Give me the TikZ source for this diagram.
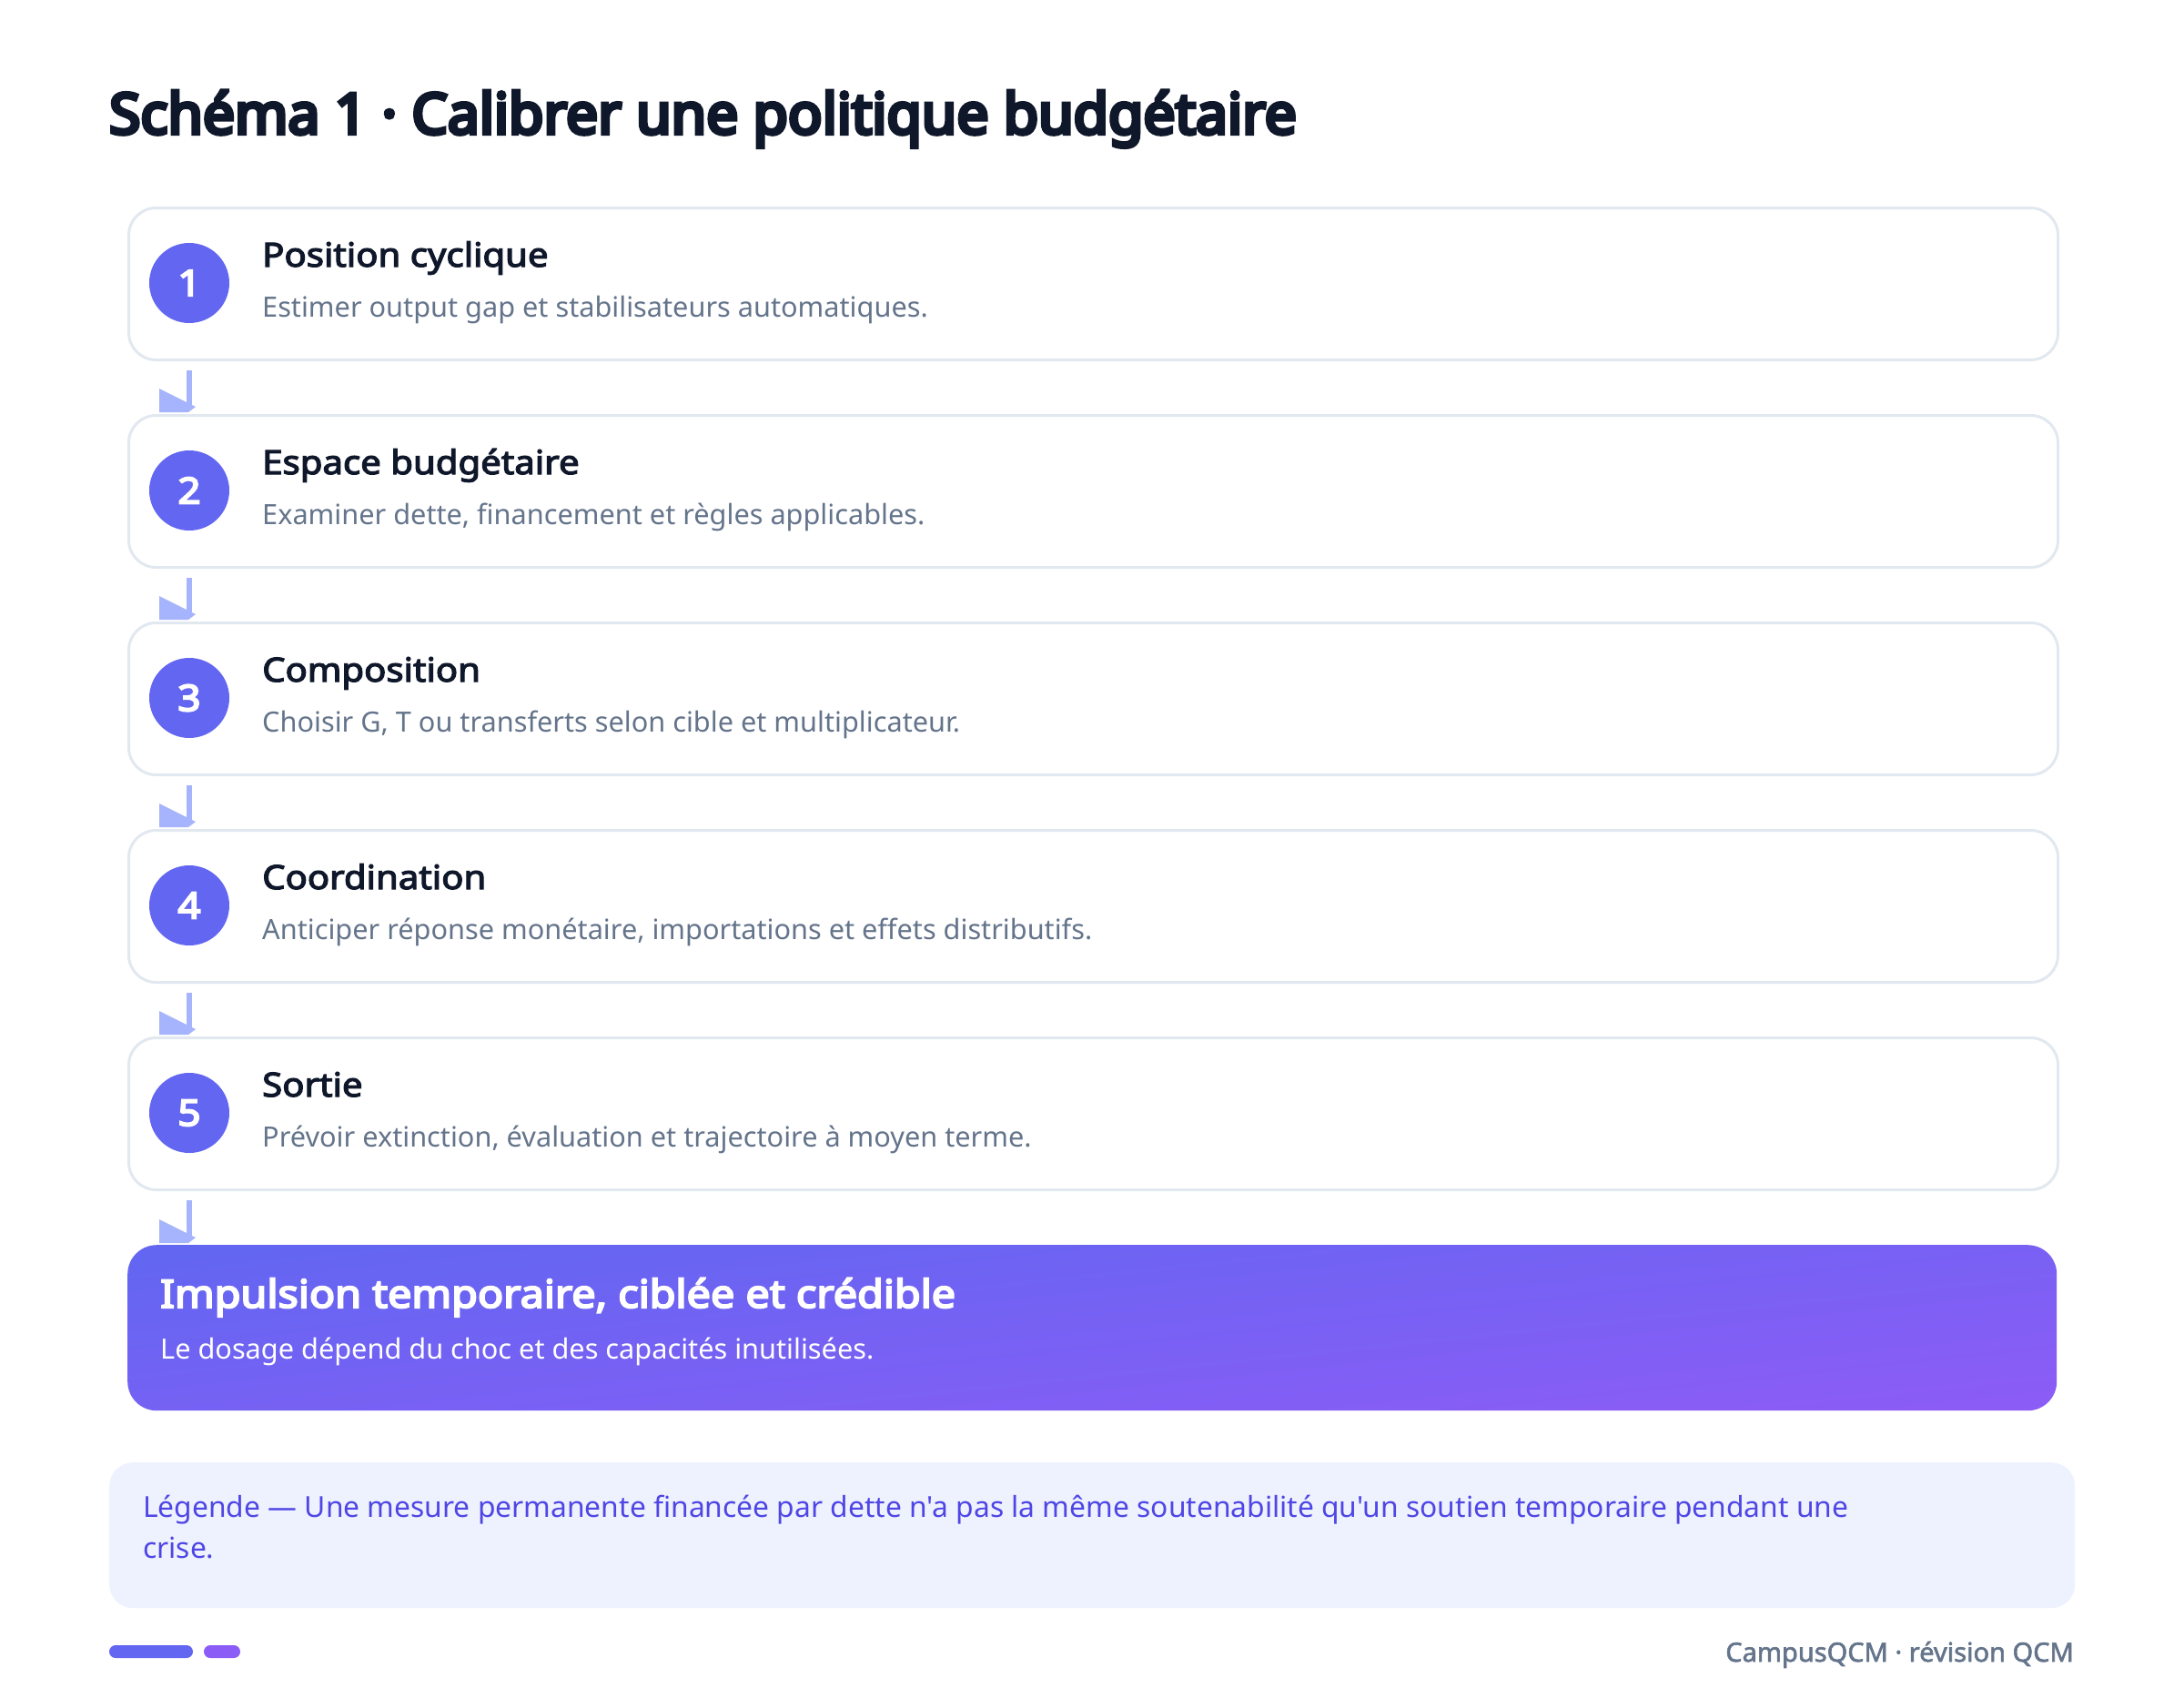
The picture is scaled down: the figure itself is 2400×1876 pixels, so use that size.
\documentclass[tikz,border=0pt]{standalone}
\usepackage{fontspec}
\setmainfont{Noto Sans}
\newfontfamily\heavyfont{Noto Sans}[FakeBold=7, FakeStretch=1.006]
\newfontfamily\boldwide{Noto Sans}[FakeBold=3.4, FakeStretch=1.1]
\newfontfamily\heavywide{Noto Sans}[FakeBold=4.8, FakeStretch=1.1]
\newfontfamily\semibold{Noto Sans}[FakeBold=2]
\newfontfamily\plainfont{Noto Sans}
\definecolor{ink}{HTML}{0F172A}
\definecolor{muted}{HTML}{64748B}
\definecolor{cardline}{HTML}{E2E8F0}
\definecolor{indigo}{HTML}{6366F1}
\definecolor{violet}{HTML}{8B5CF6}
\definecolor{arrowc}{HTML}{A5B4FC}
\definecolor{legfill}{HTML}{EEF2FF}
\definecolor{legtext}{HTML}{4F46E5}
\tikzset{
  stepcard/.style={draw=cardline, line width=3pt, fill=white, rounded corners=30pt,
    minimum width=2120pt, minimum height=167pt, anchor=north west, inner sep=0pt},
  badge/.style={circle, fill=indigo, minimum size=88pt, inner sep=0pt, text=white,
    font=\fontsize{40}{48}\selectfont\heavywide},
  steptitle/.style={anchor=base west, inner sep=0pt, text=ink,
    font=\fontsize{36.5}{44}\selectfont\boldwide},
  stepdesc/.style={anchor=base west, inner sep=0pt, text=muted,
    font=\fontsize{30.7}{38}\selectfont\plainfont},
  conn/.style={draw=arrowc, line width=5.5pt},
  connhead/.style={fill=arrowc},
}
\newcommand{\flowlink}[3]{%
  \draw[conn] ([yshift=-10pt]#1.south -| #3.center) -- ([yshift=7pt]#2.north -| #3.center);
  \fill[connhead] ([xshift=-33pt,yshift=28pt]#2.north -| #3.center)
    -- ([xshift=7pt,yshift=8pt]#2.north -| #3.center)
    -- ([xshift=-1pt,yshift=2pt]#2.north -| #3.center)
    -- ([xshift=-33pt,yshift=2pt]#2.north -| #3.center) -- cycle;}
\begin{document}
\begin{tikzpicture}[x=1pt,y=-1pt]
\useasboundingbox (0,0) rectangle (2400,1876);
\fill[white] (0,0) rectangle (2400,1876);

% Title
\node[anchor=base west, inner sep=0pt, text=ink, font=\fontsize{62}{70}\selectfont\heavyfont]
  (title) at (120,147) {Schéma 1 · Calibrer une politique budgétaire};

% Step cards
\node[stepcard] (b1) at (140,227) {};
\node[stepcard] (b2) at (140,455) {};
\node[stepcard] (b3) at (140,683) {};
\node[stepcard] (b4) at (140,911) {};
\node[stepcard] (b5) at (140,1139) {};

\node[badge] (c1) at (208,311) {1};
\node[badge] (c2) at (208,539) {2};
\node[badge] (c3) at (208,767) {3};
\node[badge] (c4) at (208,995) {4};
\node[badge] (c5) at (208,1223) {5};

\node[steptitle] (t1) at (288,293) {Position cyclique};
\node[stepdesc] (d1) at (288,348) {Estimer output gap et stabilisateurs automatiques.};
\node[steptitle] (t2) at (288,521) {Espace budgétaire};
\node[stepdesc] (d2) at (288,576) {Examiner dette, financement et règles applicables.};
\node[steptitle] (t3) at (288,749) {Composition};
\node[stepdesc] (d3) at (288,804) {Choisir G, T ou transferts selon cible et multiplicateur.};
\node[steptitle] (t4) at (288,977) {Coordination};
\node[stepdesc] (d4) at (288,1032) {Anticiper réponse monétaire, importations et effets distributifs.};
\node[steptitle] (t5) at (288,1205) {Sortie};
\node[stepdesc] (d5) at (288,1260) {Prévoir extinction, évaluation et trajectoire à moyen terme.};

% Final card
\node[anchor=north west, minimum width=2120pt, minimum height=182pt, inner sep=0pt,
  rounded corners=32pt, top color=indigo, bottom color=violet, shading angle=6]
  (fin) at (140,1368) {};
\node[anchor=base west, inner sep=0pt, text=white, font=\fontsize{42.5}{50}\selectfont\heavywide]
  (fint) at (176,1437) {Impulsion temporaire, ciblée et crédible};
\node[anchor=base west, inner sep=0pt, text=white, font=\fontsize{30.7}{38}\selectfont\plainfont]
  (find) at (176,1493) {Le dosage dépend du choc et des capacités inutilisées.};

% Connectors
\flowlink{b1}{b2}{c1}
\flowlink{b2}{b3}{c1}
\flowlink{b3}{b4}{c1}
\flowlink{b4}{b5}{c1}
\flowlink{b5}{fin}{c1}

% Legend
\node[anchor=north west, minimum width=2160pt, minimum height=160pt, inner sep=0pt,
  fill=legfill, rounded corners=26pt] (leg) at (120,1607) {};
\node[anchor=base west, inner sep=0pt, text=legtext, font=\fontsize{31.8}{38}\selectfont\plainfont]
  (leg1) at (157,1667) {Légende — Une mesure permanente financée par dette n'a pas la même soutenabilité qu'un soutien temporaire pendant une};
\node[anchor=base west, inner sep=0pt, text=legtext, font=\fontsize{31.8}{38}\selectfont\plainfont]
  (leg2) at (157,1712) {crise.};

% Footer
\fill[indigo, rounded corners=7pt] (120,1808) rectangle (212,1822);
\fill[violet, rounded corners=7pt] (224,1808) rectangle (264,1822);
\node[anchor=base east, inner sep=0pt, text=muted, font=\fontsize{29}{36}\selectfont\semibold]
  (foot) at (2279,1826) {CampusQCM · révision QCM};
\end{tikzpicture}
\end{document}
